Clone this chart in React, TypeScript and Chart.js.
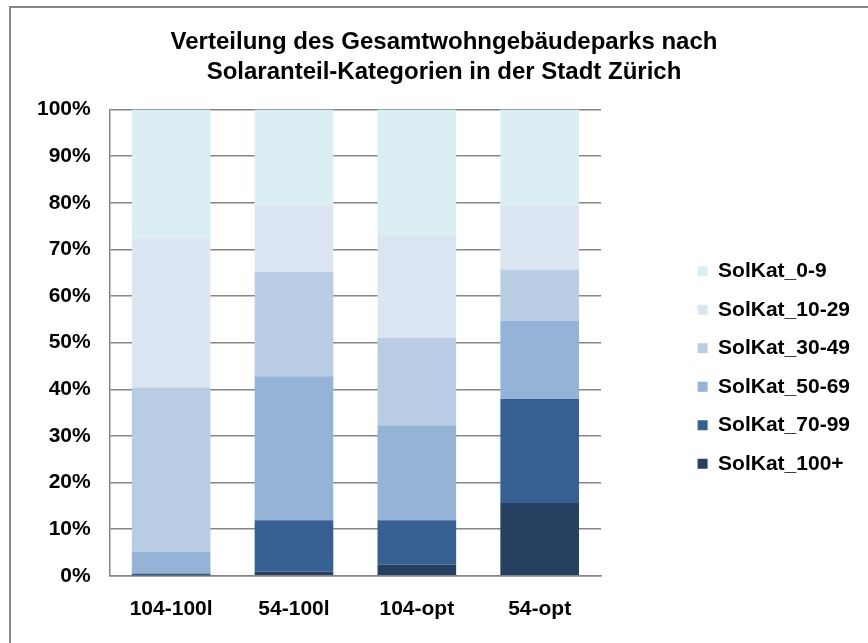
import React, { useEffect, useRef } from 'react';
import { Chart, registerables } from 'chart.js';

Chart.register(...registerables);

const titleLines = ['Verteilung des Gesamtwohngebäudeparks nach', 'Solaranteil-Kategorien in der Stadt Zürich'];
const categories = ['104-100l', '54-100l', '104-opt', '54-opt'];
const seriesNames = ['SolKat_100+', 'SolKat_70-99', 'SolKat_50-69', 'SolKat_30-49', 'SolKat_10-29', 'SolKat_0-9'];
const solKat100plus = [0.1, 0.9, 2.4, 15.6];
const solKat70to99 = [0.4, 11.0, 9.5, 22.3];
const solKat50to69 = [4.7, 30.9, 20.4, 16.8];
const solKat30to49 = [35.2, 22.4, 18.7, 11.0];
const solKat10to29 = [32.0, 14.2, 21.9, 13.7];
const solKat0to9 = [27.6, 20.6, 27.1, 20.6];
const seriesColors = ['#254061', '#376092', '#95b3d7', '#b9cde5', '#dce6f2', '#dbeef4'];
const yMin = 0;
const yMax = 100;
const yStep = 10;

const FONT = "'Liberation Sans', Arial, sans-serif";
const LEGEND_GAP = 79;
const LEGEND_DY = 46;
const TITLE_DX = 5;

const legendPlacement = {
  id: 'legendPlacement',
  beforeInit(chart: any) {
    const legend = chart.legend;
    if (!legend) return;
    const orig = legend.fit;
    legend.fit = function () {
      orig.call(this);
      this.width += LEGEND_GAP;
    };
  },
  afterLayout(chart: any) {
    const l = chart.legend;
    if (l) {
      l.left += LEGEND_GAP;
      l.top += LEGEND_DY;
      l.bottom += LEGEND_DY;
    }
    const t = chart.titleBlock;
    if (t) {
      t.left += TITLE_DX;
      t.right += TITLE_DX;
    }
  },
};

export default function App() {
  const ref = useRef<HTMLCanvasElement | null>(null);

  useEffect(() => {
    if (!ref.current) return;
    const seriesData = [solKat100plus, solKat70to99, solKat50to69, solKat30to49, solKat10to29, solKat0to9];
    const chart = new Chart(ref.current, {
      type: 'bar',
      data: {
        labels: categories,
        datasets: seriesNames.map((name, i) => ({
          label: name,
          data: seriesData[i],
          backgroundColor: seriesColors[i],
          borderColor: seriesColors[i],
          borderWidth: 0,
          barPercentage: 0.64,
          categoryPercentage: 1,
        })),
      },
      options: {
        animation: false,
        responsive: false,
        devicePixelRatio: 1,
        layout: { padding: { left: 18, right: 8, top: 0, bottom: 0 } },
        plugins: {
          title: {
            display: true,
            text: titleLines,
            color: '#000',
            font: { family: FONT, size: 24, weight: 'bold', lineHeight: 1.22 },
            padding: { top: 28, bottom: 23 },
          },
          legend: {
            display: true,
            position: 'right',
            reverse: true,
            labels: {
              boxWidth: 10,
              boxHeight: 10,
              padding: 17.5,
              color: '#000',
              font: { family: FONT, size: 21, weight: 'bold' },
            },
          },
          tooltip: { enabled: false },
        },
        scales: {
          x: {
            stacked: true,
            grid: { display: false, drawTicks: false },
            border: { display: true, color: '#868686', width: 1.5 },
            ticks: {
              color: '#000',
              padding: 21,
              font: { family: FONT, size: 21, weight: 'bold' },
            },
          },
          y: {
            stacked: true,
            min: yMin,
            max: yMax,
            grid: { color: '#868686', lineWidth: 1.5, drawTicks: false },
            border: { display: true, color: '#868686', width: 1.5 },
            ticks: {
              stepSize: yStep,
              color: '#000',
              padding: 19,
              font: { family: FONT, size: 21, weight: 'bold' },
              callback: (v: any) => `${v}%`,
            },
          },
        },
      },
      plugins: [legendPlacement],
    });
    return () => chart.destroy();
  }, []);

  return (
    <div style={{ position: 'fixed', left: 0, top: 0, width: 868, height: 643, background: '#fff' }}>
      <div
        style={{
          position: 'absolute',
          left: 9,
          top: 6,
          right: 0,
          bottom: 0,
          borderTop: '2px solid #878787',
          borderLeft: '2px solid #878787',
        }}
      />
      <canvas ref={ref} width={868} height={643} style={{ position: 'absolute', left: 0, top: 0 }} />
    </div>
  );
}
